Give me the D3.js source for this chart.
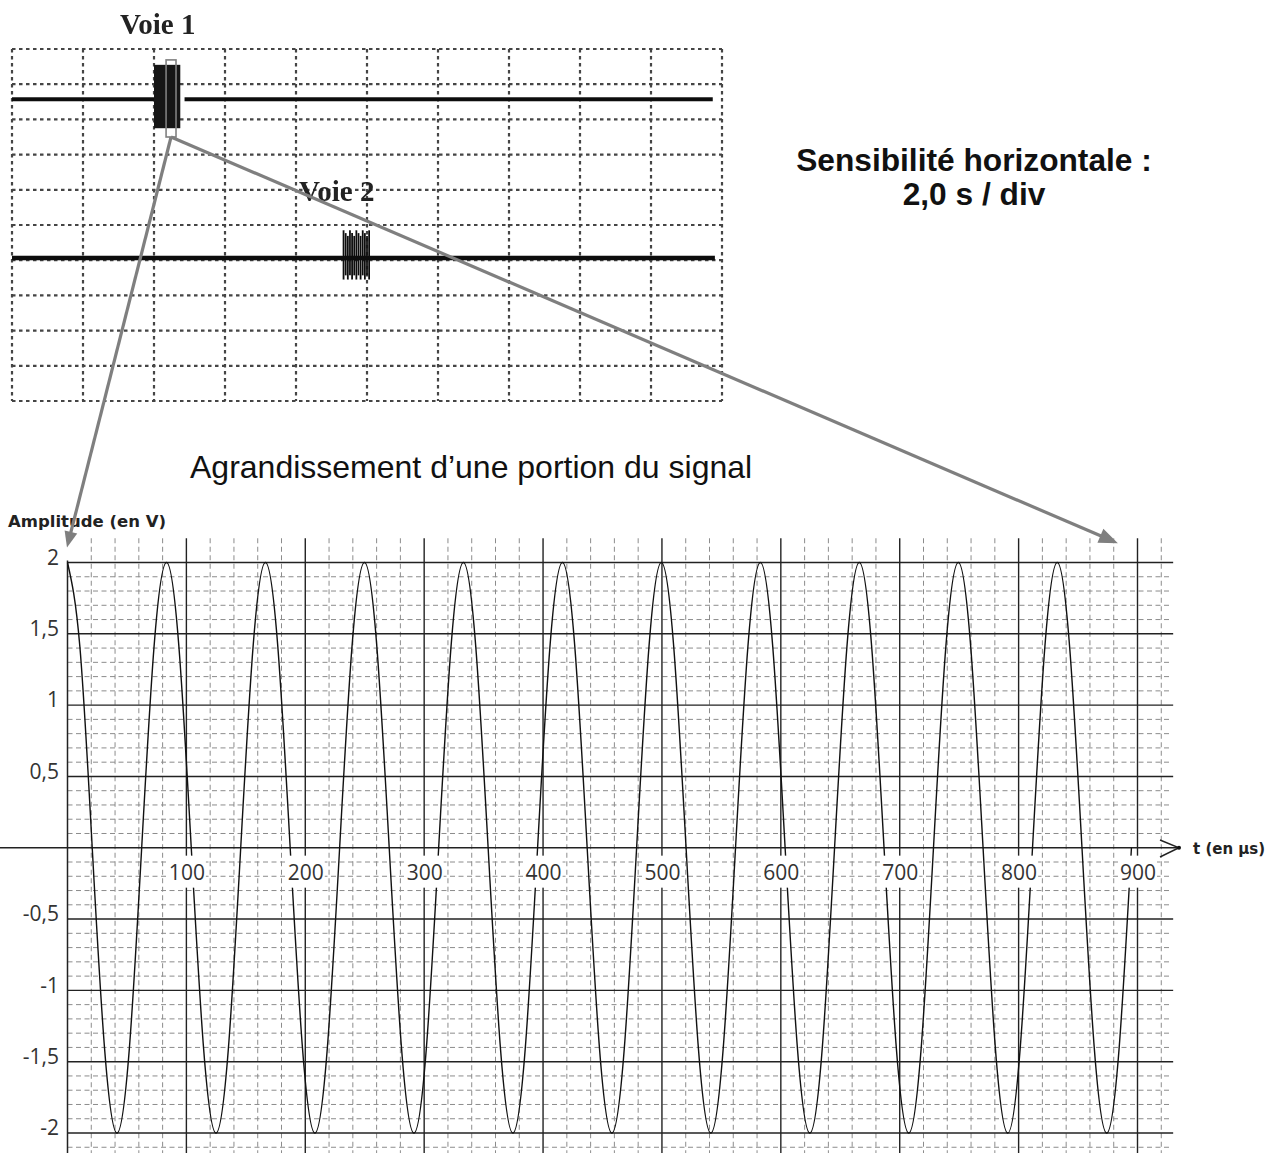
<!DOCTYPE html>
<html><head><meta charset="utf-8">
<script src="https://cdn.jsdelivr.net/npm/d3@7"></script>
<style>body{margin:0;background:#fff} svg{display:block}</style>
</head><body>
<svg id="c" width="1276" height="1153"></svg>
<script>
// ---------- data ----------
// enlarged signal: time (µs) and amplitude (V)
const sigT = [0,10.4,20.8,31.2,41.6,52.0,62.4,72.8,
  83.3,93.7,104.1,114.5,124.9,135.3,145.7,156.1,
  166.5,176.9,187.3,197.7,208.1,218.5,228.9,239.3,
  249.8,260.2,270.6,281.0,291.4,301.8,312.2,322.6,
  333.0,343.4,353.8,364.2,374.6,385.0,395.4,405.8,
  416.3,426.7,437.1,447.5,457.9,468.3,478.7,489.1,
  499.5,509.9,520.3,530.7,541.1,551.5,561.9,572.3,
  582.8,593.2,603.6,614.0,624.4,634.8,645.2,655.6,
  666.0,676.4,686.8,697.2,707.6,718.0,728.4,738.8,
  749.3,759.7,770.1,780.5,790.9,801.3,811.7,822.1,
  832.5,842.9,853.3,863.7,874.1,884.5,894.9];
const sigV = [2,1.41,0,-1.41,-2,-1.41,0,1.41,
  2,1.41,0,-1.41,-2,-1.41,0,1.41,
  2,1.41,0,-1.41,-2,-1.41,0,1.41,
  2,1.41,0,-1.41,-2,-1.41,0,1.41,
  2,1.41,0,-1.41,-2,-1.41,0,1.41,
  2,1.41,0,-1.41,-2,-1.41,0,1.41,
  2,1.41,0,-1.41,-2,-1.41,0,1.41,
  2,1.41,0,-1.41,-2,-1.41,0,1.41,
  2,1.41,0,-1.41,-2,-1.41,0,1.41,
  2,1.41,0,-1.41,-2,-1.41,0,1.41,
  2,1.41,0,-1.41,-2,-1.41,0];
const yTickValues = [-2,-1.5,-1,-0.5,0.5,1,1.5,2];
const yTickLabels = ["-2","-1,5","-1","-0,5","0,5","1","1,5","2"];
const xTickValues = [100,200,300,400,500,600,700,800,900];
const xTickLabels = ["100","200","300","400","500","600","700","800","900"];

// oscilloscope screen (units = divisions, y counted from the top)
const scopeCols = 10, scopeRows = 10;
const voie1Level = 1.43, voie2Level = 5.94;
const voie1Segments = [[0, 2.0], [2.43, 9.87]];
const voie2Segments = [[0, 9.9]];
const voie1Burst = {x0: 2.0, x1: 2.37, top: 0.45, bottom: 2.25};
const voie2Streaks = [4.67,4.70,4.73,4.76,4.79,4.82,4.85,4.88,4.91,4.94,4.97,5.00,5.03];
const voie2Burst = {top: 5.15, bottom: 6.55};
const zoomBox = {x0: 2.17, x1: 2.31, top: 0.31, bottom: 2.5};

// ---------- drawing ----------
const svg = d3.select("#c");
svg.append("rect").attr("width",1276).attr("height",1153).attr("fill","#fff");
const defs = svg.append("defs");
defs.append("filter").attr("id","blur").append("feGaussianBlur").attr("stdDeviation",0.6);

// ----- oscilloscope -----
const sx = d3.scaleLinear().domain([0, scopeCols]).range([12, 722]);
const sy = d3.scaleLinear().domain([0, scopeRows]).range([49, 401]);
const scope = svg.append("g").attr("filter","url(#blur)");
scope.selectAll("line.sv").data(d3.range(scopeCols+1)).join("line")
  .attr("x1",d=>sx(d)).attr("x2",d=>sx(d)).attr("y1",sy(0)).attr("y2",sy(scopeRows))
  .attr("stroke","#444").attr("stroke-width",2.2).attr("stroke-dasharray","3.5,3.5");
scope.selectAll("line.sh").data(d3.range(scopeRows+1)).join("line")
  .attr("y1",d=>sy(d)).attr("y2",d=>sy(d)).attr("x1",sx(0)).attr("x2",sx(scopeCols))
  .attr("stroke","#444").attr("stroke-width",2.2).attr("stroke-dasharray","3.5,3.5");
scope.selectAll("line.t1").data(voie1Segments).join("line")
  .attr("x1",d=>sx(d[0])).attr("x2",d=>sx(d[1])).attr("y1",sy(voie1Level)).attr("y2",sy(voie1Level))
  .attr("stroke","#111").attr("stroke-width",4);
scope.selectAll("line.t2").data(voie2Segments).join("line")
  .attr("x1",d=>sx(d[0])).attr("x2",d=>sx(d[1])).attr("y1",sy(voie2Level)).attr("y2",sy(voie2Level))
  .attr("stroke","#111").attr("stroke-width",4.5);
scope.append("rect")
  .attr("x",sx(voie1Burst.x0)).attr("y",sy(voie1Burst.top))
  .attr("width",sx(voie1Burst.x1)-sx(voie1Burst.x0)).attr("height",sy(voie1Burst.bottom)-sy(voie1Burst.top))
  .attr("fill","#141414");
scope.selectAll("line.b2").data(voie2Streaks).join("line")
  .attr("x1",d=>sx(d)).attr("x2",d=>sx(d))
  .attr("y1",(d,i)=>sy(voie2Burst.top + (i%3)*0.08)).attr("y2",(d,i)=>sy(voie2Burst.bottom - (i%2)*0.12))
  .attr("stroke","#111").attr("stroke-width",1.8);
scope.append("text").attr("x",120).attr("y",34).text("Voie 1")
  .attr("font-family","'Liberation Serif', serif").attr("font-weight","bold").attr("font-size",29).attr("fill","#222");
scope.append("text").attr("x",299).attr("y",201).text("Voie 2")
  .attr("font-family","'Liberation Serif', serif").attr("font-weight","bold").attr("font-size",29).attr("fill","#222");

// zoom box
svg.append("rect")
  .attr("x",sx(zoomBox.x0)).attr("y",sy(zoomBox.top))
  .attr("width",sx(zoomBox.x1)-sx(zoomBox.x0)).attr("height",sy(zoomBox.bottom)-sy(zoomBox.top))
  .attr("fill","none").attr("stroke","#808080").attr("stroke-width",1.6);

// right text
svg.append("text").attr("x",974).attr("y",171).attr("text-anchor","middle")
  .attr("font-family","'Liberation Sans', Arial, sans-serif").attr("font-weight","bold").attr("font-size",31.7)
  .attr("fill","#111").text("Sensibilité horizontale :");
svg.append("text").attr("x",974).attr("y",205).attr("text-anchor","middle")
  .attr("font-family","'Liberation Sans', Arial, sans-serif").attr("font-weight","bold").attr("font-size",31.7)
  .attr("fill","#111").text("2,0 s / div");
svg.append("text").attr("x",190).attr("y",478)
  .attr("font-family","'Liberation Sans', Arial, sans-serif").attr("font-size",32)
  .attr("fill","#111").text("Agrandissement d’une portion du signal");

// ----- enlarged chart -----
const x = d3.scaleLinear().domain([0, 900]).range([67.5, 1137.5]);
const y = d3.scaleLinear().domain([-2, 2]).range([1133, 562.5]);
const gridTop = y(2.17), gridBottom = 1153, gridRight = x(930);
const chart = svg.append("g");

const minorT = d3.range(20, 940, 20).filter(t => t % 100 !== 0);
const minorV = d3.range(-21, 20, 1).filter(k => k % 5 !== 0).map(k => k/10);
chart.selectAll("line.mv").data(minorT).join("line")
  .attr("x1",d=>x(d)).attr("x2",d=>x(d)).attr("y1",gridTop).attr("y2",gridBottom)
  .attr("stroke","#8c8c8c").attr("stroke-width",1).attr("stroke-dasharray","5,3.5");
chart.selectAll("line.mh").data(minorV).join("line")
  .attr("y1",d=>y(d)).attr("y2",d=>y(d)).attr("x1",x(0)).attr("x2",x(927))
  .attr("stroke","#8c8c8c").attr("stroke-width",1).attr("stroke-dasharray","5,3.5");
chart.selectAll("line.Mv").data(xTickValues).join("line")
  .attr("x1",d=>x(d)).attr("x2",d=>x(d)).attr("y1",gridTop).attr("y2",gridBottom)
  .attr("stroke","#222").attr("stroke-width",1.4);
chart.selectAll("line.Mh").data(yTickValues).join("line")
  .attr("y1",d=>y(d)).attr("y2",d=>y(d)).attr("x1",x(0)).attr("x2",gridRight)
  .attr("stroke","#222").attr("stroke-width",1.4);
// axes lines
chart.append("line").attr("x1",0).attr("x2",1179).attr("y1",y(0)).attr("y2",y(0))
  .attr("stroke","#222").attr("stroke-width",1.5);
chart.append("line").attr("x1",x(0)).attr("x2",x(0)).attr("y1",y(2)-2).attr("y2",gridBottom)
  .attr("stroke","#222").attr("stroke-width",1.5);
chart.append("polyline").attr("points",[[1160,840],[1179,y(0)],[1160,857]].join(" "))
  .attr("fill","none").attr("stroke","#222").attr("stroke-width",1.4);
chart.append("circle").attr("cx",1179).attr("cy",y(0)).attr("r",2).attr("fill","#111");

// signal
const sig = sigT.map((t,i)=>[t, sigV[i]]);
chart.append("path").datum(sig)
  .attr("d", d3.line().x(d=>x(d[0])).y(d=>y(d[1])).curve(d3.curveNatural))
  .attr("fill","none").attr("stroke","#111").attr("stroke-width",1.4);

// y labels
const yAx = chart.append("g").attr("transform",`translate(${x(0)},0)`)
  .call(d3.axisLeft(y).tickValues(yTickValues).tickFormat((d,i)=>yTickLabels[i]).tickSize(0).tickPadding(8.5));
yAx.select(".domain").remove();
yAx.selectAll("text").attr("font-family","'Open Sans', sans-serif").attr("font-size",21)
  .attr("fill","#333").attr("dy","0.08em");

// x labels with white background
const xAx = chart.append("g").attr("transform",`translate(0,${y(0)})`)
  .call(d3.axisBottom(x).tickValues(xTickValues).tickFormat((d,i)=>xTickLabels[i]).tickSize(0).tickPadding(17));
xAx.select(".domain").remove();
xAx.selectAll("text").attr("font-family","'Open Sans', sans-serif").attr("font-size",21).attr("fill","#333");
xAx.selectAll(".tick").each(function(){
  const t = d3.select(this).select("text");
  const bb = t.node().getBBox();
  d3.select(this).insert("rect","text")
    .attr("x",bb.x-1).attr("y",bb.y-2).attr("width",bb.width+2).attr("height",bb.height+4)
    .attr("fill","#fff");
});

chart.append("text").attr("x",8).attr("y",527).text("Amplitude (en V)")
  .attr("font-family","'DejaVu Sans', sans-serif").attr("font-weight","bold").attr("font-size",16.5).attr("fill","#222");
chart.append("text").attr("x",1193).attr("y",854).text("t (en µs)")
  .attr("font-family","'DejaVu Sans', sans-serif").attr("font-weight","bold").attr("font-size",15).attr("fill","#222");

// ----- gray arrows linking the zoom box to the enlargement -----
const start = [ (sx(zoomBox.x0)+sx(zoomBox.x1))/2, sy(zoomBox.bottom) ];
const arrowTips = [ [x(0)-0.5, y(2)-15, 16, 6.5], [x(883.5), y(2.135), 19, 7.5] ];
arrowTips.forEach(([tx,ty,len,hw])=>{
  const dx = tx-start[0], dy = ty-start[1], L = Math.hypot(dx,dy);
  const ux = dx/L, uy = dy/L;
  const bx = tx-ux*len, by = ty-uy*len;
  svg.append("line").attr("x1",start[0]).attr("y1",start[1]).attr("x2",bx+ux*2).attr("y2",by+uy*2)
    .attr("stroke","#7f7f7f").attr("stroke-width",3.2);
  svg.append("polygon")
    .attr("points",[[tx,ty],[bx-uy*hw,by+ux*hw],[bx+uy*hw,by-ux*hw]].join(" "))
    .attr("fill","#7f7f7f");
});
</script>
</body></html>
